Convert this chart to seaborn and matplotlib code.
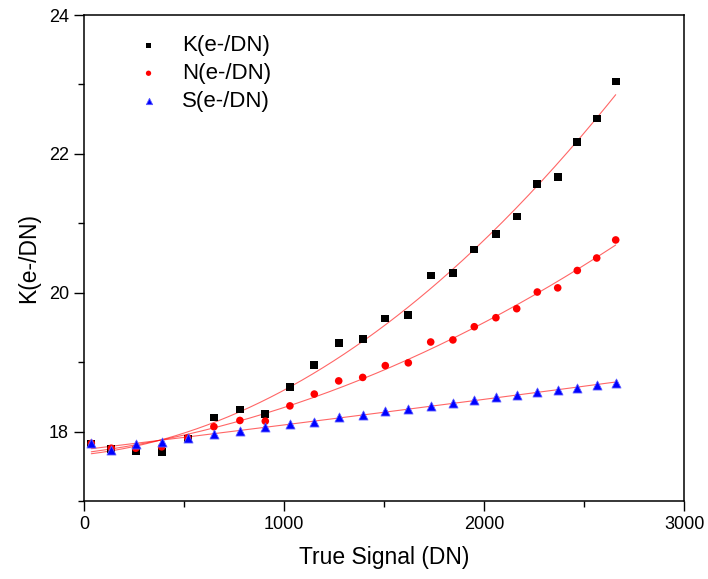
import numpy as np
import pandas as pd
import matplotlib
matplotlib.use("Agg")
import matplotlib.pyplot as plt
from matplotlib.ticker import MultipleLocator
import seaborn as sns

signal = [35, 135, 257, 387, 517, 648, 778, 905, 1028, 1150, 1272, 1392,
          1505, 1620, 1732, 1843, 1950, 2058, 2162, 2265, 2367, 2465, 2562, 2657]
k_vals = [17.83, 17.75, 17.72, 17.71, 17.90, 18.20, 18.32, 18.25, 18.64, 18.96, 19.28, 19.33,
          19.63, 19.68, 20.25, 20.28, 20.62, 20.85, 21.10, 21.57, 21.67, 22.17, 22.51, 23.04]
n_vals = [17.83, 17.76, 17.76, 17.78, 17.91, 18.07, 18.16, 18.15, 18.37, 18.54, 18.73, 18.78,
          18.95, 18.99, 19.29, 19.32, 19.51, 19.64, 19.77, 20.01, 20.07, 20.32, 20.50, 20.76]
s_vals = [17.84, 17.74, 17.82, 17.85, 17.91, 17.96, 18.005, 18.06, 18.11, 18.135, 18.21, 18.245,
          18.29, 18.33, 18.37, 18.41, 18.45, 18.50, 18.53, 18.57, 18.60, 18.63, 18.67, 18.705]
labels = ["K(e-/DN)", "N(e-/DN)", "S(e-/DN)"]

sns.set_theme(style="ticks")
plt.rcParams["font.family"] = ["Liberation Sans", "DejaVu Sans"]
plt.rcParams["text.color"] = "black"
plt.rcParams["axes.labelcolor"] = "black"
plt.rcParams["xtick.color"] = "black"
plt.rcParams["ytick.color"] = "black"

fig = plt.figure(figsize=(7.08, 5.79), dpi=100)
ax = fig.add_axes([84.3 / 708, 1 - 501 / 579, 600 / 708, 486 / 579])

styles = [
    dict(color="black", marker="s", s=30, edgecolor="none"),
    dict(color="red", marker="o", s=30, edgecolor="none"),
    dict(color="blue", marker="^", s=42, edgecolor="#5a5aff", linewidth=0.6),
]
x = np.array(signal, dtype=float)
for vals, lab, st in zip([k_vals, n_vals, s_vals], labels, styles):
    df = pd.DataFrame({"x": signal, "y": vals})
    sns.scatterplot(data=df, x="x", y="y", ax=ax, label=lab, zorder=3, **st)
    coef = np.polyfit(x, np.array(vals), 2)
    xf = np.linspace(x.min(), x.max(), 200)
    fit = pd.DataFrame({"x": xf, "y": np.polyval(coef, xf)})
    sns.lineplot(data=fit, x="x", y="y", ax=ax, color="red", lw=0.8, alpha=0.6,
                 zorder=2, legend=False)

ax.set_xlim(0, 3000)
ax.set_ylim(17, 24)
ax.xaxis.set_major_locator(MultipleLocator(1000))
ax.xaxis.set_minor_locator(MultipleLocator(500))
ax.yaxis.set_major_locator(MultipleLocator(2))
ax.yaxis.set_minor_locator(MultipleLocator(1))
ax.tick_params(which="major", direction="out", length=7, width=1, labelsize=13,
               colors="black", pad=4)
ax.tick_params(which="minor", direction="out", length=4.5, width=1, colors="black")
for sp in ax.spines.values():
    sp.set_visible(True)
    sp.set_linewidth(1.1)
    sp.set_color("black")
ax.set_xlabel("True Signal (DN)", fontsize=16.5, labelpad=9, color="black")
ax.set_ylabel("K(e-/DN)", fontsize=16.5, labelpad=6, color="black")

leg = ax.legend(loc="upper left", bbox_to_anchor=(0.07, 0.958), frameon=False,
                fontsize=16, markerscale=0.7, handlelength=2, handletextpad=0.5,
                labelspacing=0.3, borderpad=0, borderaxespad=0)
for t in leg.get_texts():
    t.set_color("black")

fig.savefig("out.png", dpi=100)
